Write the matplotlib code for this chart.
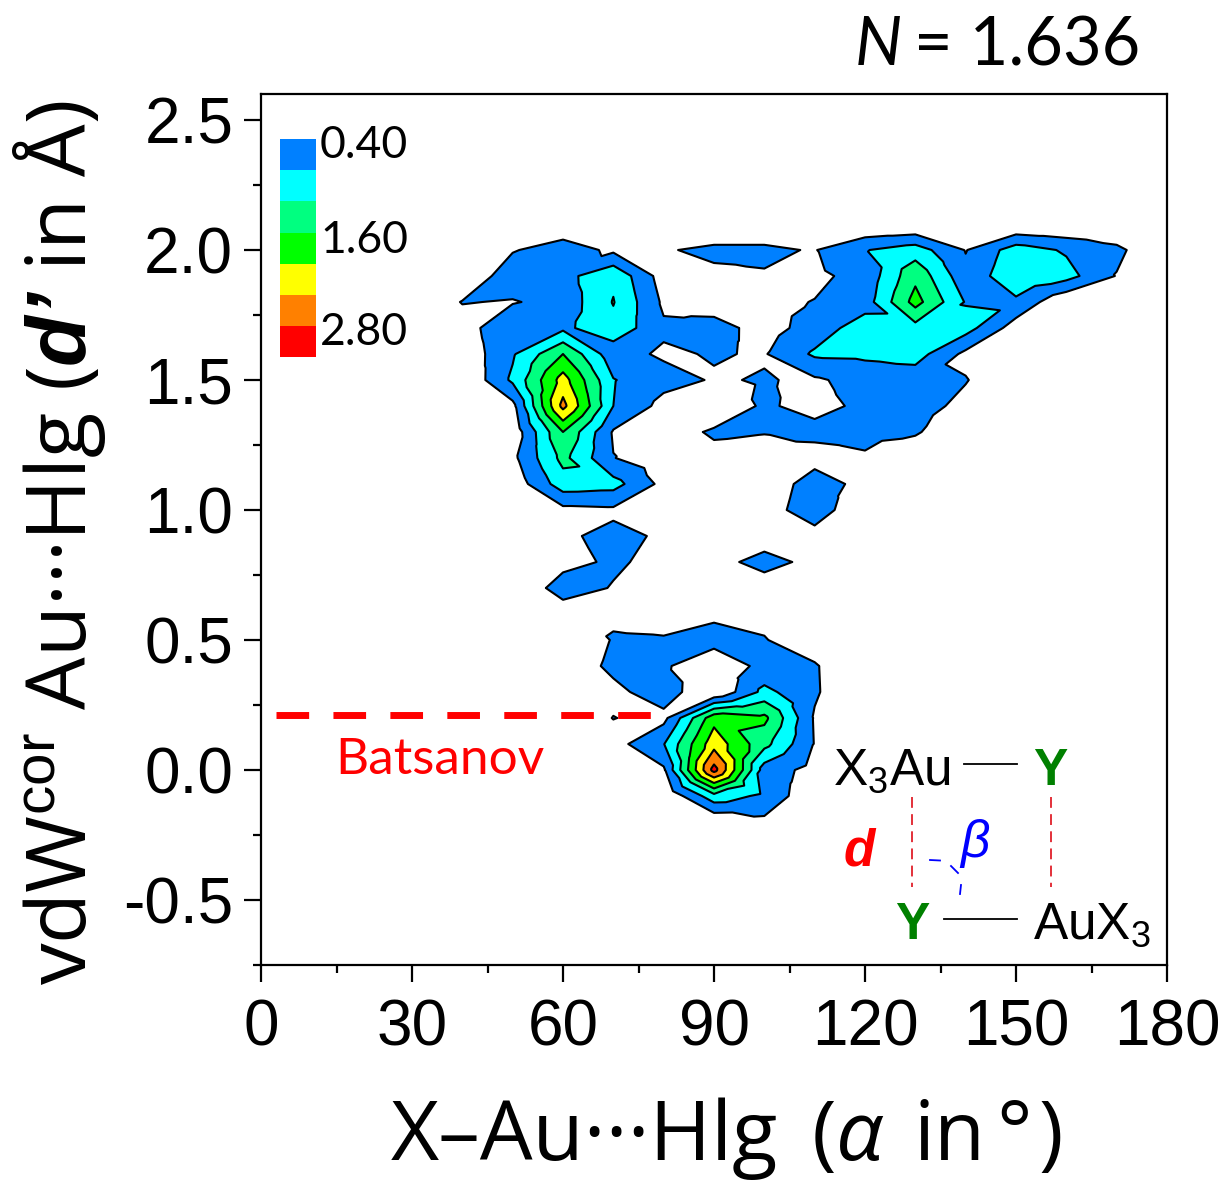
import numpy as np
import matplotlib
matplotlib.use("Agg")
import matplotlib.pyplot as plt
import matplotlib.tri as mtri
from matplotlib.lines import Line2D
from matplotlib.patches import Rectangle

W, H = 1225, 1182

plt.rcParams['font.family'] = 'Liberation Sans'
plt.rcParams['mathtext.fontset'] = 'custom'
plt.rcParams['mathtext.rm'] = 'Liberation Sans'
plt.rcParams['mathtext.it'] = 'Liberation Sans:italic'
plt.rcParams['mathtext.bf'] = 'Liberation Sans:bold'
plt.rcParams['mathtext.bfit'] = 'Liberation Sans:italic:bold'

# density, columns are angles, rows go from top to bottom
angles = [30, 40, 50, 60, 70, 80, 90, 100, 110, 120, 130, 140, 150, 160, 170, 180]
distances = [2.1, 2.0, 1.9, 1.8, 1.7, 1.6, 1.5, 1.4, 1.3, 1.2, 1.1, 1.0, 0.9,
             0.8, 0.7, 0.6, 0.5, 0.4, 0.3, 0.2, 0.1, 0.0, -0.1, -0.2, -0.3]
density = [
    [0, 0, 0, .1, 0, 0, .2, .2, 0, 0, 0, 0, 0, 0, 0, 0],
    [0, 0, .37, .6, .32, .38, .45, .45, .38, .78, 1.0, .38, 1.0, .75, .5, 0],
    [0, .05, .65, .66, 1.12, .21, .35, .38, .33, .51, 1.5, .52, 1.1, .95, .38, 0],
    [0, .42, .37, .54, 1.22, .33, .2, .33, .41, .6, 1.75, .77, .72, .05, 0, 0],
    [0, .2, .76, .71, 1.085, .46, .55, .25, .55, 1.04, 1.05, .97, .2, 0, 0, 0],
    [0, .11, .75, 1.6, .53, .35, .425, .37, .864, .88, .98, .3, .1, 0, 0, 0],
    [0, 0, .875, 2.17, .82, .53, .37, .424, .34, .56, .55, .42, .1, 0, 0, 0],
    [0, 0, .28, 2.52, .8, .27, .19, .443, .3, .467, .55, .3, 0, 0, 0, 0],
    [0, 0, .12, 1.6, .36, .26, .44, .41, .5, .5, .45, .05, 0, 0, 0, 0],
    [0, 0, .3, 1.32, .41, .2, .31, .3, .25, .36, .1, 0, 0, 0, 0, 0],
    [0, 0, .13, 1.02, .95, .28, .1, .12, .6, .27, 0, 0, 0, 0, 0, 0],
    [0, 0, .1, .29, .33, .15, .1, .2, .65, .02, 0, 0, 0, 0, 0, 0],
    [0, 0, .1, .34, .5, .35, .2, .25, .23, .05, 0, 0, 0, 0, 0, 0],
    [0, 0, .1, .3, .45, .3, .3, .5, .32, .1, 0, 0, 0, 0, 0, 0],
    [0, 0, .11, .55, .38, .1, .2, .25, .1, 0, 0, 0, 0, 0, 0, 0],
    [0, 0, 0, .22, .34, .3, .36, .3, .1, 0, 0, 0, 0, 0, 0, 0],
    [0, 0, 0, 0, .43, .42, .48, .42, .17, 0, 0, 0, 0, 0, 0, 0],
    [0, 0, 0, .1, .5, .43, .24, .465, .44, 0, 0, 0, 0, 0, 0, 0],
    [0, 0, 0, 0, .29, .62, .02, .92, .45, 0, 0, 0, 0, 0, 0, 0],
    [0, 0, 0, .1, .41, .28, 1.86, 1.7, .36, 0, 0, 0, 0, 0, 0, 0],
    [0, 0, 0, 0, .24, .78, 2.25, 1.33, .38, 0, 0, 0, 0, 0, 0, 0],
    [0, 0, 0, 0, 0, .34, 2.95, .6, .27, 0, 0, 0, 0, 0, 0, 0],
    [0, 0, 0, 0, 0, 0, 1.05, .7, .08, 0, 0, 0, 0, 0, 0, 0],
    [0, 0, 0, 0, 0, 0, .05, .31, 0, 0, 0, 0, 0, 0, 0, 0],
    [0, 0, 0, 0, 0, 0, 0, 0, 0, 0, 0, 0, 0, 0, 0, 0],
]
levels = [0.4, 0.8, 1.2, 1.6, 2.0, 2.4, 2.8, 3.2]
colors = ['#0080FF', '#00FFFF', '#00FF80', '#00FF00', '#FFFF00', '#FF8000', '#FF0000']
legend_labels = ['0.40', '1.60', '2.80']
batsanov = 0.21

# saddle cells (left angle, lower distance) where the picture joins the high corners
joined_high = {(40, 1.8), (60, 0.7)}


def px_text(x, y, s, **kw):
    # x, y in pixels of the final picture, y counted from the top
    kw.setdefault('va', 'baseline')
    return fig.text(x / W, 1 - y / H, s, **kw)


def px_line(x0, y0, x1, y1, **kw):
    fig.add_artist(Line2D([x0 / W, x1 / W], [1 - y0 / H, 1 - y1 / H],
                          transform=fig.transFigure, **kw))


def cell_kind(a, b, d, e, key):
    # a b on top, d e below. 'fall' = diagonal a-e, 'rise' = diagonal b-d, 'fan' = centre point
    above = [(a >= L, b >= L, d >= L, e >= L) for L in levels]
    if any(p[0] == p[3] and p[1] == p[2] and p[0] != p[1] for p in above):
        low_join = a + e < b + d
        if key in joined_high:
            low_join = not low_join
        return 'fall' if low_join else 'rise'
    if any(sum(p) == 2 for p in above):
        return 'fan'
    corners = np.array([a, b, d, e])
    far = int(np.argmax(np.abs(corners - corners.mean())))
    return 'fall' if far in (1, 2) else 'rise'


fig = plt.figure(figsize=(W / 100, H / 100), dpi=100)
ax = fig.add_axes([261 / W, 1 - 965 / H, (1167 - 261) / W, (965 - 94) / H])

z = np.array(density)
xg, yg = np.meshgrid(angles, distances)
ids = np.arange(z.size).reshape(z.shape)
node_x = list(xg.ravel())
node_y = list(yg.ravel())
node_z = list(z.ravel())
triangles = []
for r in range(z.shape[0] - 1):
    for c in range(z.shape[1] - 1):
        a, b, d, e = ids[r, c], ids[r, c + 1], ids[r + 1, c], ids[r + 1, c + 1]
        kind = cell_kind(z[r, c], z[r, c + 1], z[r + 1, c], z[r + 1, c + 1],
                         (angles[c], distances[r + 1]))
        if kind == 'fall':
            triangles += [[a, e, b], [a, d, e]]
        elif kind == 'rise':
            triangles += [[a, d, b], [b, d, e]]
        else:
            m = len(node_x)
            node_x.append((angles[c] + angles[c + 1]) / 2)
            node_y.append((distances[r] + distances[r + 1]) / 2)
            node_z.append(z[r:r + 2, c:c + 2].mean())
            triangles += [[a, d, m], [d, e, m], [e, b, m], [b, a, m]]
tri = mtri.Triangulation(node_x, node_y, triangles)

ax.tricontourf(tri, node_z, levels=levels, colors=colors)
ax.tricontour(tri, node_z, levels=levels[:-1], colors='black', linewidths=1.5)

ax.set_xlim(0, 180)
ax.set_ylim(-0.75, 2.6)
ax.set_xticks(range(0, 181, 30))
ax.set_xticks(range(15, 180, 30), minor=True)
ax.set_yticks([-0.5, 0, 0.5, 1.0, 1.5, 2.0, 2.5])
ax.set_yticklabels(['-0.5', '0.0', '0.5', '1.0', '1.5', '2.0', '2.5'])
ax.set_yticks([-0.75, -0.25, 0.25, 0.75, 1.25, 1.75, 2.25], minor=True)
ax.tick_params(which='major', length=12, width=1.6, labelsize=46)
ax.tick_params(which='minor', length=6, width=1.6)
ax.tick_params(axis='x', which='major', pad=12)
ax.tick_params(axis='y', which='major', pad=8)
for s in ax.spines.values():
    s.set_linewidth(1.6)

# colour key
for i, col in enumerate(colors):
    ax.add_patch(Rectangle((19 / 906, 1 - (45 + (i + 1) * 31.2) / 871), 36 / 906, 31.2 / 871,
                           transform=ax.transAxes, fc=col, ec='none', zorder=5))
for lab, y in zip(legend_labels, [158, 253, 345]):
    px_text(320, y, lab, family='Lato', fontsize=32)

# Batsanov reference line
ax.plot([(276 - 261) / 906 * 180, (653 - 261) / 906 * 180], [batsanov, batsanov],
        color='#FF0000', lw=5, dashes=(4.7, 3.5), dash_capstyle='butt')
px_text(335, 774, 'Batsanov', family='Lato', fontsize=37, color='#FF0000')

# title and axis labels
px_text(855, 65, 'N', family='Lato', style='italic', fontsize=48)
px_text(914, 65, '= 1.636', family='Lato', fontsize=48)
px_text(391, 1160, 'X–Au···Hlg', family='Open Sans', fontsize=60)
px_text(812, 1160, '(', family='Open Sans', fontsize=60)
px_text(836, 1160, 'α', family='Open Sans', style='italic', fontsize=60)
px_text(913, 1160, 'in', family='Open Sans', fontsize=60)
px_text(996, 1160, '°', family='Open Sans', fontsize=60)
px_text(1039, 1160, ')', family='Open Sans', fontsize=60)
fig.text(60 / W, 1 - 543 / H, 'vdW$^{\\mathrm{cor}}$ Au···Hlg ($\\mathbfit{d’}$ in Å)',
         rotation=90, ha='center', va='center', family='Open Sans', fontsize=60)

# small scheme in the corner
green = '#008000'
px_text(833, 785, 'X$_3$Au', fontsize=37)
px_text(1033, 939, 'AuX$_3$', fontsize=37)
px_text(1033, 785, 'Y', fontsize=37, fontweight='bold', color=green)
px_text(895, 939, 'Y', fontsize=37, fontweight='bold', color=green)
px_text(844, 865, 'd', fontsize=37, fontweight='bold', style='italic', color='#FF0000')
px_text(960, 857, 'β', fontsize=37, style='italic', color='#0000FF')
px_line(964, 764, 1017, 764, color='black', lw=1.3)
px_line(944, 919, 1017, 919, color='black', lw=1.3)
for x in (912, 1051):
    px_line(x, 797, x, 887, color='#E0202A', lw=1.3, dashes=(6, 3.5))
px_line(930, 860, 940, 860.5, color='#0000FF', lw=1.3)
px_line(951, 866, 958, 873, color='#0000FF', lw=1.3)
px_line(961, 885, 960, 894, color='#0000FF', lw=1.3)

fig.savefig('out.png', dpi=100)
